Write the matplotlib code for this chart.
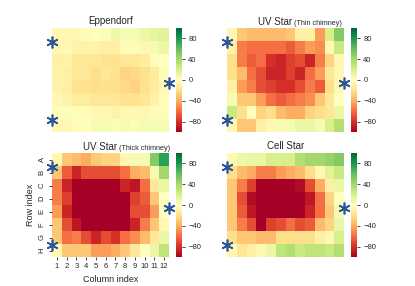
import numpy as np
import matplotlib
matplotlib.use("Agg")
import matplotlib.pyplot as plt

plt.rcParams['font.family'] = ['Liberation Sans', 'DejaVu Sans']
plt.rcParams['text.color'] = '#262626'
plt.rcParams['axes.labelcolor'] = '#262626'
plt.rcParams['xtick.color'] = '#262626'
plt.rcParams['ytick.color'] = '#262626'

rows = ["A", "B", "C", "D", "E", "F", "G", "H"]
cols = [str(i) for i in range(1, 13)]

eppendorf = [
    [-5, -5, -5, -3, 0, 2, 8, 5, 5, 8, 12, 15],
    [-5, -5, -8, -8, -8, -10, -10, -3, -3, -5, 5, 10],
    [-10, -8, -15, -15, -15, -18, -18, -15, -15, -12, -2, 0],
    [-8, -10, -15, -15, -20, -15, -18, -25, -22, -18, -12, -3],
    [-8, -10, -18, -18, -20, -18, -20, -22, -25, -18, -12, -5],
    [-5, -8, -12, -12, -15, -15, -15, -18, -18, -15, -8, -3],
    [-3, 2, -3, -3, -5, -5, -8, -5, -5, -5, -3, -2],
    [-5, -5, -3, 0, 5, 5, 3, 5, 3, 5, 5, 5],
]

uv_thin = [
    [-5, -30, -35, -35, -35, -35, -30, -10, -10, -45, 20, 50],
    [-10, -55, -60, -60, -60, -60, -65, -55, -45, -50, -5, 25],
    [-20, -55, -65, -60, -80, -85, -75, -70, -85, -55, -25, -5],
    [-20, -35, -60, -70, -85, -85, -75, -85, -60, -45, -15, -5],
    [-10, -45, -55, -70, -75, -80, -80, -70, -55, -65, -20, -5],
    [5, -30, -30, -45, -60, -65, -60, -55, -50, -30, -15, 0],
    [25, -20, 0, -25, -20, -35, -40, -40, -25, -20, -15, 10],
    [-5, -30, -30, -10, -5, 5, 5, 10, 10, 5, 20, 35],
]

uv_thick = [
    [-5, -30, -35, -40, -30, -25, -25, -5, 5, 5, 50, 75],
    [-30, -65, -85, -70, -70, -70, -70, -60, -40, -35, 5, 40],
    [-55, -85, -100, -100, -100, -100, -100, -85, -90, -60, -15, 10],
    [-55, -75, -100, -100, -100, -100, -100, -100, -75, -65, -30, 0],
    [-45, -85, -100, -100, -100, -100, -100, -100, -70, -70, -45, 0],
    [-30, -70, -90, -100, -100, -100, -100, -100, -85, -55, -30, -5],
    [-30, -60, -55, -70, -85, -70, -80, -60, -50, -35, -15, 10],
    [-5, -30, -30, -30, -45, -45, -40, -30, -15, 0, 10, 30],
]

cell_star = [
    [-5, 8, 10, 10, 20, 20, 20, 35, 40, 40, 45, 50],
    [-20, -35, -40, -55, -55, -45, -40, -35, -20, -5, 15, 25],
    [-30, -55, -75, -100, -100, -100, -100, -95, -70, -40, -10, 10],
    [-30, -70, -95, -100, -100, -100, -100, -100, -90, -60, -25, 0],
    [-30, -65, -90, -100, -100, -100, -100, -100, -85, -60, -30, 5],
    [-30, -55, -70, -100, -75, -70, -60, -70, -65, -35, -25, 10],
    [-20, -30, -30, -35, -35, -20, -20, -20, -20, -10, -5, 20],
    [-5, -15, -10, -5, 10, 30, 35, 25, 30, 30, 25, 35],
]

cbar_ticks = [-80, -40, 0, 40, 80]
# asterisk positions (column, row) in cell units
marks_x = [0, 0, 12]
marks_y = [1.1, 7.05, 4.2]

fig = plt.figure(figsize=(4.15, 2.86), dpi=100)

W, H = 415.0, 286.0


def px_axes(x0, y0, w, h):
    return fig.add_axes([x0 / W, 1 - (y0 + h) / H, w / W, h / H])


panels = [
    (eppendorf, 52, 28, ("Eppendorf", None)),
    (uv_thin, 227, 28, ("UV Star", "(Thin chimney)")),
    (uv_thick, 52, 153, ("UV Star", "(Thick chimney)")),
    (cell_star, 227, 153, ("Cell Star", None)),
]

for i, (data, x0, y0, title) in enumerate(panels):
    ax = px_axes(x0, y0, 117, 104)
    mesh = ax.pcolormesh(np.arange(13), np.arange(9), np.array(data),
                         cmap="RdYlGn", vmin=-100, vmax=100)
    ax.set_xlim(0, 12)
    ax.set_ylim(8, 0)
    for s in ax.spines.values():
        s.set_visible(False)

    ax.plot(marks_x, marks_y, linestyle="none", marker=(6, 2, 0),
            markersize=8.5, markeredgewidth=1.2, color="#2b5797",
            clip_on=False, zorder=5)

    main, small = title
    if small is None:
        ax.set_title(main, fontsize=7, pad=3)
    else:
        ax.text(0.265, 1.03, main, transform=ax.transAxes, fontsize=7,
                ha="left", va="baseline")
        ax.text(0.575, 1.03, small, transform=ax.transAxes, fontsize=5.2,
                ha="left", va="baseline")

    if i == 2:
        ax.set_xticks(np.arange(12) + 0.5)
        ax.set_xticklabels(cols)
        ax.set_yticks(np.arange(8) + 0.5)
        ax.set_yticklabels(rows, rotation=90, va="center")
        ax.tick_params(labelsize=5.5, length=2.5, width=0.6, pad=2)
        ax.set_xlabel("Column index", fontsize=6.5, labelpad=3.5)
        ax.set_ylabel("Row index", fontsize=6.5, labelpad=2.5)
    else:
        ax.set_xticks([])
        ax.set_yticks([])

    cax = px_axes(x0 + 124, y0, 6, 104)
    cb = fig.colorbar(mesh, cax=cax, ticks=cbar_ticks)
    cb.outline.set_visible(False)
    cb.ax.tick_params(labelsize=5.5, length=2.5, width=0.6, pad=2)

fig.savefig("out.png", dpi=100)
